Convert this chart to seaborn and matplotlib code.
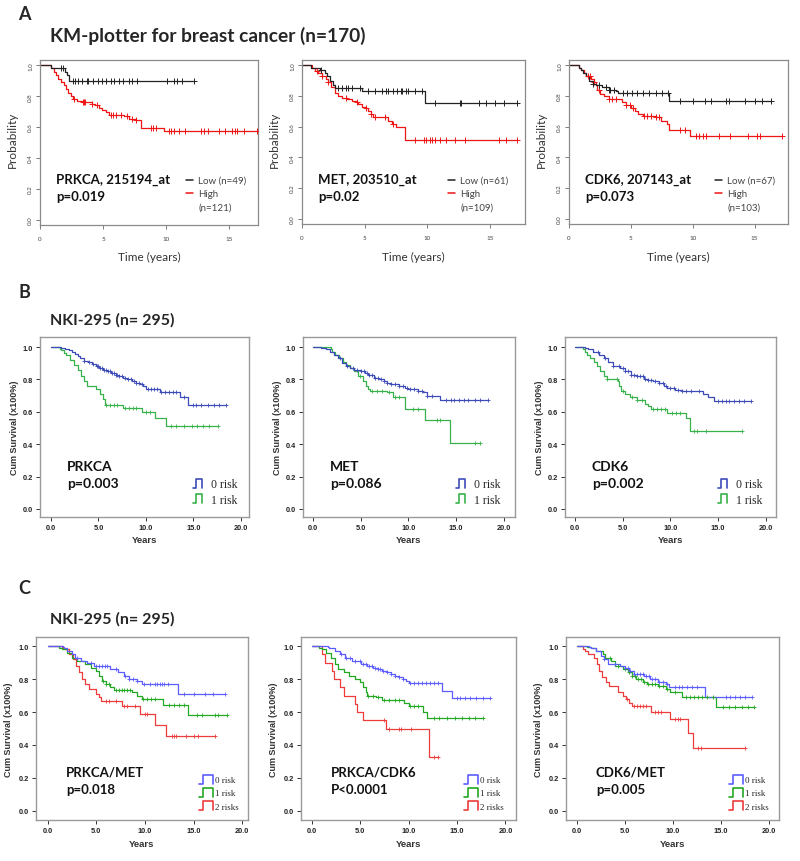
import numpy as np
import pandas as pd
import matplotlib
matplotlib.use("Agg")
import matplotlib.pyplot as plt
import seaborn as sns
from matplotlib.lines import Line2D
from matplotlib.legend_handler import HandlerBase

# ---------------- DATA ----------------
# Panel A : KM-plotter (time in years, survival probability after each step)
A1_low_t = [0.85, 1.95, 2.15, 2.3]
A1_low_s = [0.983, 0.96, 0.935, 0.90]
A1_low_end = 12.2
A1_low_c = [1.7, 1.8, 2.6, 2.8, 3.0, 3.3, 3.7, 3.8, 4.2, 4.6, 4.9, 5.2, 5.6, 5.9, 6.3, 6.6, 7.1, 7.3, 7.7,
            10.1, 10.6, 10.9, 11.3, 12.2]
A1_high_t = [0.85, 1.15, 1.3, 1.45, 1.7, 1.9, 2.1, 2.25, 2.45, 2.6, 2.9, 3.3, 4.1, 4.4, 4.65, 4.9, 5.2,
             5.5, 6.7, 7.1, 7.6, 8.05, 9.85]
A1_high_s = [0.983, 0.96, 0.935, 0.91, 0.89, 0.87, 0.85, 0.82, 0.80, 0.785, 0.77, 0.76, 0.75, 0.74, 0.725,
             0.71, 0.695, 0.68, 0.67, 0.655, 0.645, 0.594, 0.572]
A1_high_end = 17.2
A1_high_c = [2.7, 3.4, 3.5, 3.6, 4.1, 4.5, 5.6, 5.8, 6.0, 6.4, 6.9, 7.3, 7.6, 8.8, 9.0, 9.2, 10.2, 10.4,
             10.6, 11.0, 11.5, 12.8, 13.0, 13.3, 14.2, 14.7, 15.2, 15.5, 15.6, 16.2, 17.2]

A2_low_t = [0.75, 1.4, 1.8, 2.0, 2.2, 2.5, 2.65, 4.75, 9.85]
A2_low_s = [0.98, 0.97, 0.95, 0.93, 0.90, 0.87, 0.85, 0.83, 0.755]
A2_low_end = 17.2
A2_low_c = [1.5, 2.9, 3.2, 3.5, 3.7, 4.0, 4.6, 5.3, 5.8, 6.4, 6.7, 6.9, 7.3, 7.6, 7.9, 8.0, 8.3, 8.5, 9.0,
            9.6, 10.6, 12.6, 12.7, 14.1, 14.7, 15.4, 16.1, 17.2]
A2_high_t = [0.8, 1.0, 1.3, 1.6, 1.9, 2.1, 2.3, 2.6, 2.9, 3.2, 3.6, 4.0, 4.3, 4.5, 4.8, 5.1, 5.3, 5.5,
             5.7, 6.9, 7.2, 7.5, 8.2]
A2_high_s = [0.98, 0.96, 0.95, 0.93, 0.91, 0.89, 0.86, 0.82, 0.80, 0.79, 0.78, 0.77, 0.76, 0.75, 0.73,
             0.72, 0.70, 0.68, 0.66, 0.64, 0.62, 0.60, 0.51]
A2_high_end = 17.2
A2_high_c = [1.2, 1.6, 2.1, 3.5, 4.4, 5.1, 5.5, 5.8, 6.6, 7.3, 9.0, 9.7, 9.9, 10.2, 10.4, 10.6, 11.0,
             11.5, 12.2, 13.0, 15.7, 16.3, 17.2]

A3_low_t = [0.8, 0.95, 1.1, 1.4, 1.6, 1.9, 2.2, 2.7, 3.2, 3.8, 4.0, 8.1]
A3_low_s = [0.985, 0.97, 0.95, 0.93, 0.90, 0.88, 0.87, 0.86, 0.84, 0.83, 0.82, 0.77]
A3_low_end = 16.3
A3_low_c = [1.9, 2.4, 3.0, 3.2, 3.3, 3.6, 4.4, 4.7, 5.1, 5.5, 6.0, 6.5, 7.0, 7.5, 8.0, 9.0, 10.0, 11.0,
            11.5, 12.7, 12.9, 14.2, 15.0, 15.6, 16.3]
A3_high_t = [0.8, 1.0, 1.2, 1.4, 1.8, 2.0, 2.2, 2.3, 2.5, 2.8, 3.2, 4.3, 4.6, 5.0, 5.3, 5.6, 6.0, 7.0,
             7.4, 7.9, 8.1, 9.8]
A3_high_s = [0.985, 0.97, 0.95, 0.93, 0.91, 0.89, 0.87, 0.84, 0.81, 0.80, 0.78, 0.76, 0.74, 0.72, 0.70,
             0.68, 0.67, 0.66, 0.64, 0.62, 0.576, 0.54]
A3_high_end = 17.2
A3_high_c = [1.5, 1.7, 2.0, 2.4, 3.2, 3.5, 3.8, 4.6, 4.9, 5.2, 6.1, 6.3, 6.6, 7.0, 7.3, 9.0, 9.4, 10.3,
             10.5, 10.8, 11.1, 12.1, 13.0, 14.5, 15.2, 15.4, 17.2]

# Panel B : NKI-295 single genes
B1_r0_t = [1.1, 1.5, 1.9, 2.2, 2.5, 2.8, 3.1, 3.5, 3.9, 4.3, 4.7, 5.1, 5.5, 5.9, 6.3, 6.8, 7.2, 7.6, 8.0,
           8.5, 9.0, 9.4, 9.7, 10.0, 11.5, 13.6, 14.4]
B1_r0_s = [0.995, 0.99, 0.98, 0.97, 0.955, 0.945, 0.93, 0.915, 0.905, 0.895, 0.88, 0.87, 0.86, 0.85, 0.84,
           0.83, 0.82, 0.81, 0.80, 0.79, 0.78, 0.77, 0.76, 0.74, 0.72, 0.69, 0.645]
B1_r0_end = 18.4
B1_r0_c = [3.5, 4.0, 4.4, 4.8, 5.0, 5.2, 5.4, 5.6, 5.8, 6.0, 6.2, 6.4, 6.6, 6.8, 7.0, 7.2, 7.5, 7.8, 8.1,
           8.4, 8.7, 9.0, 9.3, 9.6, 10.2, 10.5, 10.8, 11.2, 11.6, 12.0, 12.4, 12.8, 13.2, 14.0, 15.0, 15.3,
           15.8, 16.5, 17.2, 17.7, 18.4]
B1_r1_t = [0.9, 1.1, 1.4, 1.6, 2.0, 2.4, 2.8, 3.2, 3.5, 3.8, 4.7, 5.2, 5.5, 5.7, 7.6, 9.6, 11.0, 12.1]
B1_r1_s = [0.99, 0.98, 0.965, 0.95, 0.92, 0.89, 0.86, 0.82, 0.79, 0.76, 0.74, 0.71, 0.68, 0.645, 0.625,
           0.60, 0.56, 0.51]
B1_r1_end = 17.6
B1_r1_c = [5.8, 6.2, 6.6, 7.0, 7.8, 8.2, 8.6, 9.0, 10.0, 10.4, 12.6, 13.2, 14.0, 14.8, 15.4, 16.0, 16.6,
           17.6]

B2_r0_t = [0.8, 1.3, 1.8, 2.2, 2.6, 3.0, 3.4, 3.9, 4.3, 5.0, 5.4, 5.8, 6.4, 6.9, 7.4, 7.8, 8.2, 9.0, 9.6,
           10.0, 11.0, 11.5, 12.0, 13.3]
B2_r0_s = [0.995, 0.99, 0.97, 0.95, 0.93, 0.90, 0.88, 0.87, 0.86, 0.85, 0.84, 0.83, 0.81, 0.80, 0.79,
           0.78, 0.77, 0.76, 0.75, 0.74, 0.73, 0.72, 0.70, 0.675]
B2_r0_end = 18.4
B2_r0_c = [2.8, 3.5, 4.2, 4.6, 5.0, 5.3, 5.6, 5.9, 6.2, 6.5, 6.8, 7.1, 7.4, 7.8, 8.2, 8.6, 9.0, 9.4, 9.8,
           10.2, 10.6, 11.0, 11.4, 12.0, 12.5, 14.0, 14.5, 14.8, 15.3, 15.8, 16.3, 17.0, 17.5, 18.4]
B2_r1_t = [1.9, 2.0, 2.3, 2.7, 3.1, 3.4, 3.9, 4.3, 4.7, 5.2, 5.5, 5.7, 6.0, 7.7, 8.4, 9.6, 11.7, 14.4]
B2_r1_s = [0.99, 0.97, 0.95, 0.93, 0.91, 0.89, 0.87, 0.85, 0.82, 0.79, 0.76, 0.74, 0.73, 0.72, 0.69,
           0.62, 0.55, 0.41]
B2_r1_end = 17.5
B2_r1_c = [4.9, 6.2, 6.7, 7.2, 8.0, 8.6, 9.0, 10.5, 11.0, 13.0, 13.3, 17.0, 17.5]

B3_r0_t = [1.0, 1.4, 1.9, 2.5, 3.0, 3.5, 4.0, 4.7, 5.2, 5.9, 6.5, 7.2, 7.7, 8.2, 8.8, 9.3, 9.7, 10.5, 11.2,
           13.4, 14.0, 14.6]
B3_r0_s = [0.995, 0.99, 0.97, 0.95, 0.93, 0.91, 0.88, 0.87, 0.85, 0.83, 0.82, 0.80, 0.795, 0.79, 0.78,
           0.76, 0.745, 0.735, 0.73, 0.71, 0.69, 0.665]
B3_r0_end = 18.5
B3_r0_c = [2.4, 3.2, 4.0, 4.6, 5.0, 5.3, 5.6, 5.9, 6.2, 6.5, 6.8, 7.1, 7.4, 7.7, 8.0, 8.4, 8.8, 9.2, 9.6,
           10.0, 10.4, 10.8, 11.2, 11.6, 12.2, 13.0, 15.0, 15.4, 15.8, 16.2, 16.7, 17.2, 17.7, 18.5]
B3_r1_t = [0.8, 1.1, 1.3, 1.6, 2.0, 2.3, 2.6, 3.0, 3.4, 4.5, 4.6, 4.8, 5.2, 5.8, 6.5, 7.3, 7.7, 8.0, 9.7,
           11.7, 12.1]
B3_r1_s = [0.985, 0.97, 0.95, 0.93, 0.91, 0.88, 0.85, 0.82, 0.80, 0.79, 0.76, 0.73, 0.71, 0.69, 0.67,
           0.65, 0.635, 0.62, 0.59, 0.56, 0.48]
B3_r1_end = 17.5
B3_r1_c = [3.4, 4.4, 5.0, 6.0, 6.5, 7.0, 8.2, 8.6, 9.0, 9.4, 10.2, 10.6, 11.0, 12.5, 12.8, 13.8, 17.5]

# Panel C : NKI-295 gene pairs
C1_r0_t = [1.6, 1.7, 2.0, 2.5, 2.8, 3.4, 4.0, 4.8, 6.4, 7.2, 7.8, 8.4, 9.2, 9.7, 13.4]
C1_r0_s = [0.995, 0.99, 0.97, 0.95, 0.93, 0.91, 0.895, 0.88, 0.86, 0.84, 0.82, 0.80, 0.79, 0.77, 0.71]
C1_r0_end = 18.2
C1_r0_c = [3.0, 4.5, 5.0, 5.3, 5.6, 5.9, 6.1, 7.0, 8.0, 8.4, 8.8, 9.2, 9.9, 10.5, 11.0, 11.2, 11.5, 11.8,
           12.0, 12.4, 14.0, 15.0, 16.2, 17.0, 18.2]
C1_r1_t = [1.2, 1.5, 2.0, 2.5, 3.0, 3.8, 4.5, 5.0, 5.3, 5.6, 6.0, 6.4, 6.8, 8.7, 9.2, 9.7, 11.9, 14.4]
C1_r1_s = [0.99, 0.98, 0.96, 0.93, 0.91, 0.89, 0.87, 0.85, 0.82, 0.79, 0.77, 0.75, 0.735, 0.72, 0.70,
           0.68, 0.645, 0.58]
C1_r1_end = 18.4
C1_r1_c = [5.7, 6.0, 6.3, 7.0, 7.3, 7.6, 7.9, 8.2, 8.5, 9.8, 10.2, 10.6, 11.0, 12.5, 13.0, 13.5, 14.0,
           15.4, 15.9, 17.2, 17.5, 18.4]
C1_r2_t = [1.5, 1.7, 2.2, 2.6, 2.9, 3.2, 3.5, 3.8, 4.3, 5.0, 5.3, 5.5, 7.6, 9.5, 11.0, 12.2]
C1_r2_s = [0.99, 0.98, 0.95, 0.92, 0.88, 0.84, 0.80, 0.77, 0.74, 0.71, 0.69, 0.665, 0.635, 0.585, 0.52,
           0.455]
C1_r2_end = 17.2
C1_r2_c = [6.0, 6.3, 7.0, 7.8, 8.2, 9.0, 10.0, 10.2, 12.8, 13.0, 13.2, 14.2, 15.0, 15.5, 17.2]

C2_r0_t = [1.7, 1.8, 2.4, 2.9, 3.4, 4.2, 5.1, 5.7, 6.3, 6.8, 7.3, 7.8, 8.2, 8.6, 9.0, 9.4, 9.7, 10.0,
           13.5, 14.5]
C2_r0_s = [0.995, 0.99, 0.97, 0.95, 0.93, 0.91, 0.89, 0.88, 0.87, 0.86, 0.85, 0.84, 0.83, 0.82, 0.81,
           0.80, 0.79, 0.775, 0.73, 0.685]
C2_r0_end = 18.4
C2_r0_c = [3.0, 3.5, 4.0, 4.5, 5.0, 5.3, 5.6, 5.9, 6.2, 6.5, 6.8, 7.1, 7.4, 7.8, 8.2, 8.6, 9.0, 9.4,
           10.2, 10.6, 11.0, 11.4, 11.8, 12.2, 12.6, 13.0, 15.0, 15.3, 15.8, 16.3, 17.0, 17.7, 18.4]
C2_r1_t = [0.8, 1.1, 1.5, 2.0, 2.4, 2.7, 3.3, 3.9, 4.5, 5.0, 5.3, 5.6, 5.7, 6.6, 7.3, 9.5, 10.0, 11.5,
           11.9]
C2_r1_s = [0.99, 0.98, 0.96, 0.93, 0.89, 0.86, 0.84, 0.82, 0.80, 0.78, 0.75, 0.72, 0.70, 0.69, 0.675,
           0.655, 0.635, 0.60, 0.565]
C2_r1_end = 17.7
C2_r1_c = [5.8, 6.3, 6.8, 7.5, 8.0, 8.6, 9.0, 10.2, 10.6, 11.0, 12.6, 13.2, 14.0, 14.8, 15.5, 16.2,
           16.9, 17.7]
C2_r2_t = [1.1, 1.4, 2.1, 2.3, 2.9, 3.3, 4.5, 4.7, 5.3, 7.7, 12.1]
C2_r2_s = [0.95, 0.90, 0.85, 0.80, 0.75, 0.70, 0.65, 0.60, 0.55, 0.495, 0.33]
C2_r2_end = 13.0
C2_r2_c = [7.5, 8.0, 9.0, 9.2, 10.3, 12.6, 13.0]

C3_r0_t = [1.3, 1.5, 2.0, 2.5, 2.8, 3.3, 4.5, 5.0, 5.5, 6.0, 7.0, 7.6, 8.5, 9.3, 9.6, 13.4]
C3_r0_s = [0.995, 0.99, 0.97, 0.94, 0.92, 0.89, 0.88, 0.87, 0.85, 0.83, 0.82, 0.80, 0.78, 0.77, 0.75,
           0.69]
C3_r0_end = 18.2
C3_r0_c = [2.8, 4.0, 5.0, 5.3, 5.6, 6.0, 6.3, 6.6, 6.9, 7.2, 7.5, 7.8, 8.2, 8.6, 9.0, 9.4, 10.2, 10.6,
           11.0, 11.5, 12.0, 12.5, 15.5, 16.0, 16.5, 17.0, 17.5, 18.2]
C3_r1_t = [1.1, 1.5, 2.0, 2.7, 3.0, 3.6, 4.0, 4.8, 5.3, 5.8, 6.2, 6.9, 7.3, 8.5, 9.3, 9.7, 11.0, 14.5]
C3_r1_s = [0.995, 0.99, 0.97, 0.95, 0.93, 0.91, 0.88, 0.86, 0.84, 0.82, 0.80, 0.78, 0.77, 0.76, 0.74,
           0.72, 0.69, 0.63]
C3_r1_end = 18.4
C3_r1_c = [3.5, 4.3, 5.0, 5.4, 5.8, 6.1, 6.4, 6.7, 7.0, 7.4, 7.8, 8.2, 8.6, 9.0, 9.4, 10.2, 11.4, 11.8,
           12.2, 12.6, 13.0, 13.6, 14.2, 15.2, 15.8, 16.5, 17.2, 17.8, 18.4]
C3_r2_t = [0.7, 0.9, 1.2, 1.8, 2.1, 2.3, 2.6, 3.1, 3.4, 4.3, 4.8, 5.1, 5.4, 5.8, 7.7, 9.7, 11.6, 12.1]
C3_r2_s = [0.985, 0.97, 0.95, 0.93, 0.89, 0.85, 0.81, 0.78, 0.76, 0.72, 0.70, 0.68, 0.655, 0.635, 0.60,
           0.555, 0.47, 0.38]
C3_r2_end = 17.5
C3_r2_c = [5.2, 6.0, 6.3, 6.6, 6.9, 7.2, 8.2, 8.5, 8.8, 10.2, 10.5, 10.8, 12.6, 12.9, 17.5]

# Text content
A_genes = ["PRKCA, 215194_at", "MET, 203510_at", "CDK6, 207143_at"]
A_pvals = ["p=0.019", "p=0.02", "p=0.073"]
A_low_labels = ["Low (n=49)", "Low (n=61)", "Low (n=67)"]
A_high_labels = ["(n=121)", "(n=109)", "(n=103)"]
B_genes = ["PRKCA", "MET", "CDK6"]
B_pvals = ["p=0.003", "p=0.086", "p=0.002"]
C_genes = ["PRKCA/MET", "PRKCA/CDK6", "CDK6/MET"]
C_pvals = ["p=0.018", "P<0.0001", "p=0.005"]
risk_labels = ["0 risk", "1 risk", "2 risks"]
A_xticks = [0, 5, 10, 15]
NKI_xticks = [0.0, 5.0, 10.0, 15.0, 20.0]
yticks = [0.0, 0.2, 0.4, 0.6, 0.8, 1.0]

# ---------------- STYLE ----------------
sns.set_style("white")
plt.rcParams["font.family"] = ["Lato", "DejaVu Sans"]

W, H = 800, 862
fig = plt.figure(figsize=(W / 100, H / 100), dpi=100)

COL_LOW, COL_HIGH = "#222222", "#ee1515"
B_BLUE, B_GREEN = "#3d4bb8", "#37b24a"
C_BLUE, C_GREEN, C_RED = "#5d5dff", "#22a822", "#ec3c3c"
SANS = ["Liberation Sans", "DejaVu Sans"]


def add_ax(box):
    l, r, t, b = box
    return fig.add_axes([l / W, 1 - b / H, (r - l) / W, (b - t) / H])


def frac(box, x, y):
    l, r, t, b = box
    return (x - l) / (r - l), (b - y) / (b - t)


def km(ax, t, s, end, cens, color, ms, mew, lw=0.9):
    x = np.r_[0.0, t, end]
    y = np.r_[1.0, s, s[-1]]
    df = pd.DataFrame({"time": x, "surv": y})
    sns.lineplot(data=df, x="time", y="surv", drawstyle="steps-post", color=color, lw=lw,
                 ax=ax, estimator=None, sort=False)
    tt = np.r_[0.0, t]
    ss = np.r_[1.0, s]
    idx = np.searchsorted(tt, np.asarray(cens), side="right") - 1
    cdf = pd.DataFrame({"time": cens, "surv": ss[idx]})
    sns.scatterplot(data=cdf, x="time", y="surv", marker="+", s=ms, color=color,
                    linewidth=mew, ax=ax, zorder=3)


class StepHandler(HandlerBase):
    def create_artists(self, legend, orig_handle, xdescent, ydescent, width, height,
                       fontsize, trans):
        xs = np.array([0.0, 0.3, 0.3, 1.0, 1.0]) * width - xdescent
        ys = np.array([-0.1, -0.1, 1.05, 1.05, -0.1]) * height - ydescent
        ln = Line2D(xs, ys, color=orig_handle.get_color(), lw=1.2)
        ln.set_transform(trans)
        return [ln]


# ---------------- PANEL A ----------------
A_boxes = [(40, 258, 61, 226), (302, 525, 61, 225), (569, 788, 61, 225)]
A_xlims = [(0, 17.3), (0, 17.8), (0, 17.7)]
A_data = [
    (A1_low_t, A1_low_s, A1_low_end, A1_low_c, A1_high_t, A1_high_s, A1_high_end, A1_high_c),
    (A2_low_t, A2_low_s, A2_low_end, A2_low_c, A2_high_t, A2_high_s, A2_high_end, A2_high_c),
    (A3_low_t, A3_low_s, A3_low_end, A3_low_c, A3_high_t, A3_high_s, A3_high_end, A3_high_c),
]
for i, box in enumerate(A_boxes):
    ax = add_ax(box)
    lt, ls, le, lc, ht, hs, he, hc = A_data[i]
    km(ax, ht, hs, he, hc, COL_HIGH, 18, 0.7)
    km(ax, lt, ls, le, lc, COL_LOW, 18, 0.7)
    ax.set_xlim(*A_xlims[i])
    ax.set_ylim(-0.035, 1.035)
    ax.set_xticks(A_xticks)
    ax.set_xticklabels([str(v) for v in A_xticks])
    ax.set_yticks(yticks)
    ax.set_yticklabels([f"{v:.1f}" for v in yticks], rotation=90, va="center")
    ax.tick_params(direction="out", length=3, width=0.6, color="#666", labelsize=4.5,
                   labelcolor="#444", left=True, bottom=True)
    ax.tick_params(axis="x", pad=5)
    ax.tick_params(axis="y", pad=2)
    for sp in ax.spines.values():
        sp.set_color("#8a8a8a")
        sp.set_linewidth(0.9)
    ax.set_xlabel("Time (years)", fontsize=8.5, color="#333")
    ax.set_ylabel("Probability", fontsize=8.5, color="#333")
    ax.xaxis.set_label_coords(*frac(box, (box[0] + box[1]) / 2, 252))
    ax.yaxis.set_label_coords(*frac(box, box[0] - 22, 140))
    gx, gy = frac(box, box[0] + 16, 180)
    ax.text(gx, gy, A_genes[i], transform=ax.transAxes, fontsize=9.5, fontweight="bold",
            va="center", ha="left", color="#111")
    gx2, gy2 = frac(box, box[0] + 16, 197)
    ax.text(gx2, gy2, A_pvals[i], transform=ax.transAxes, fontsize=9.5, fontweight="bold",
            va="center", ha="left", color="#111")
    handles = [Line2D([], [], color=COL_LOW, lw=1.1), Line2D([], [], color=COL_HIGH, lw=1.1),
               Line2D([], [], color="none", lw=0)]
    lx, ly = frac(box, box[0] + 146, 177)
    leg = ax.legend(handles, [A_low_labels[i], "High", A_high_labels[i]], loc="upper left",
                    bbox_to_anchor=(lx, ly), frameon=False, fontsize=7, handlelength=0.75,
                    handletextpad=0.5, labelspacing=0.45, borderpad=0, borderaxespad=0)
    for txt in leg.get_texts():
        txt.set_color("#444")

fig.text(18 / W, 1 - 14 / H, "A", fontsize=13, fontweight="bold", va="center", ha="left")
fig.text(50 / W, 1 - 36 / H, "KM-plotter for breast cancer (n=170)", fontsize=13.8,
         fontweight="bold", va="center", ha="left")


# ---------------- PANELS B & C ----------------
def nki_axes(ax, box, xlim, ylim, xlabel_top, ylabel_x):
    ax.set_xlim(*xlim)
    ax.set_ylim(*ylim)
    ax.set_xticks(NKI_xticks)
    ax.set_xticklabels([f"{v:.1f}" for v in NKI_xticks])
    ax.set_yticks(yticks)
    ax.set_yticklabels([f"{v:.1f}" for v in yticks])
    ax.tick_params(direction="out", length=3, width=0.7, color="#333", labelsize=5.3,
                   labelcolor="#222", pad=2, left=True, bottom=True)
    for lab in ax.get_xticklabels() + ax.get_yticklabels():
        lab.set_fontweight("bold")
        lab.set_family(SANS)
    for sp in ax.spines.values():
        sp.set_color("#9a9a9a")
        sp.set_linewidth(1.0)
    ax.set_xlabel("Years", fontsize=6.8, fontweight="bold", color="#333", family=SANS)
    ax.set_ylabel("Cum Survival (x100%)", fontsize=6.5, fontweight="bold", color="#333",
                  family=SANS)
    ax.xaxis.set_label_coords(*frac(box, (box[0] + box[1]) / 2, xlabel_top))
    ax.yaxis.set_label_coords(*frac(box, ylabel_x, (box[2] + box[3]) / 2))


B_boxes = [(40, 249, 338, 518), (303, 515, 338, 518), (565, 776, 338, 518)]
B_xlims = [(-1.16, 20.85), (-1.08, 21.2), (-1.05, 21.1)]
B_data = [
    (B1_r0_t, B1_r0_s, B1_r0_end, B1_r0_c, B1_r1_t, B1_r1_s, B1_r1_end, B1_r1_c),
    (B2_r0_t, B2_r0_s, B2_r0_end, B2_r0_c, B2_r1_t, B2_r1_s, B2_r1_end, B2_r1_c),
    (B3_r0_t, B3_r0_s, B3_r0_end, B3_r0_c, B3_r1_t, B3_r1_s, B3_r1_end, B3_r1_c),
]
for i, box in enumerate(B_boxes):
    ax = add_ax(box)
    t0, s0, e0, c0, t1, s1, e1, c1 = B_data[i]
    km(ax, t1, s1, e1, c1, B_GREEN, 7, 0.6)
    km(ax, t0, s0, e0, c0, B_BLUE, 7, 0.6)
    nki_axes(ax, box, B_xlims[i], (-0.05, 1.062), 536, box[0] - 21)
    gx, gy = frac(box, box[0] + 27, 467)
    ax.text(gx, gy, B_genes[i], transform=ax.transAxes, fontsize=10, fontweight="bold",
            va="center", ha="left", color="#111")
    gx2, gy2 = frac(box, box[0] + 27, 484)
    ax.text(gx2, gy2, B_pvals[i], transform=ax.transAxes, fontsize=10, fontweight="bold",
            va="center", ha="left", color="#111")
    handles = [Line2D([], [], color=B_BLUE), Line2D([], [], color=B_GREEN)]
    lx, ly = frac(box, box[0] + 153, 479)
    ax.legend(handles, risk_labels[:2], loc="upper left", bbox_to_anchor=(lx, ly),
              frameon=False, handler_map={Line2D: StepHandler()},
              prop={"family": "Liberation Serif", "size": 8.5}, handlelength=0.8,
              handleheight=0.65, handletextpad=0.7, labelspacing=0.3, borderpad=0,
              borderaxespad=0)

fig.text(18 / W, 1 - 293 / H, "B", fontsize=13, fontweight="bold", va="center", ha="left")
fig.text(50 / W, 1 - 320 / H, "NKI-295 (n= 295)", fontsize=11.5, fontweight="bold",
         va="center", ha="left")

C_boxes = [(36, 248, 638, 821), (301, 516, 638, 821), (566, 779, 638, 821)]
C_xlims = [(-1.2, 20.6), (-1.1, 21.1), (-1.1, 21.05)]
C_data = [
    (C1_r0_t, C1_r0_s, C1_r0_end, C1_r0_c, C1_r1_t, C1_r1_s, C1_r1_end, C1_r1_c,
     C1_r2_t, C1_r2_s, C1_r2_end, C1_r2_c),
    (C2_r0_t, C2_r0_s, C2_r0_end, C2_r0_c, C2_r1_t, C2_r1_s, C2_r1_end, C2_r1_c,
     C2_r2_t, C2_r2_s, C2_r2_end, C2_r2_c),
    (C3_r0_t, C3_r0_s, C3_r0_end, C3_r0_c, C3_r1_t, C3_r1_s, C3_r1_end, C3_r1_c,
     C3_r2_t, C3_r2_s, C3_r2_end, C3_r2_c),
]
for i, box in enumerate(C_boxes):
    ax = add_ax(box)
    d = C_data[i]
    km(ax, d[8], d[9], d[10], d[11], C_RED, 7, 0.6)
    km(ax, d[4], d[5], d[6], d[7], C_GREEN, 7, 0.6)
    km(ax, d[0], d[1], d[2], d[3], C_BLUE, 7, 0.6)
    nki_axes(ax, box, C_xlims[i], (-0.055, 1.055), 840, box[0] - 23)
    gx, gy = frac(box, box[0] + 30, 773)
    ax.text(gx, gy, C_genes[i], transform=ax.transAxes, fontsize=9.5, fontweight="bold",
            va="center", ha="left", color="#111")
    gx2, gy2 = frac(box, box[0] + 30, 790)
    ax.text(gx2, gy2, C_pvals[i], transform=ax.transAxes, fontsize=9.5, fontweight="bold",
            va="center", ha="left", color="#111")
    handles = [Line2D([], [], color=C_BLUE), Line2D([], [], color=C_GREEN),
               Line2D([], [], color=C_RED)]
    lx, ly = frac(box, box[0] + 163, 776)
    ax.legend(handles, risk_labels, loc="upper left", bbox_to_anchor=(lx, ly),
              frameon=False, handler_map={Line2D: StepHandler()},
              prop={"family": "Liberation Serif", "size": 6.5}, handlelength=1.5,
              handleheight=1.0, handletextpad=0.25, labelspacing=0.45, borderpad=0,
              borderaxespad=0)

fig.text(18 / W, 1 - 588 / H, "C", fontsize=13, fontweight="bold", va="center", ha="left")
fig.text(50 / W, 1 - 619 / H, "NKI-295 (n= 295)", fontsize=11.5, fontweight="bold",
         va="center", ha="left")

fig.savefig("out.png", dpi=100, facecolor="white")
